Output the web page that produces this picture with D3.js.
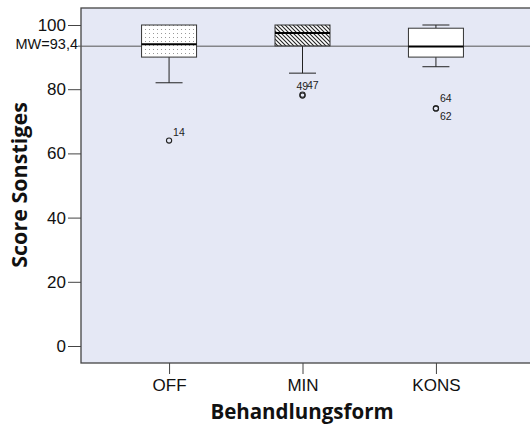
<!DOCTYPE html>
<html>
<head>
<meta charset="utf-8">
<script src="https://cdn.jsdelivr.net/npm/d3@7"></script>
<style>
  body { margin: 0; background: #fff; }
  svg { display: block; }
</style>
</head>
<body>
<div id="app"></div>
<script>
// data
const groups = ['OFF', 'MIN', 'KONS'];
const whiskerLow = [82, 85, 87];
const q1 = [90, 93.5, 90];
const median = [94, 97.5, 93.3];
const q3 = [100, 100, 99];
const whiskerHigh = [100, 100, 100];
const fills = ['dots', 'hatch', 'plain'];

const outlierGroup = ['OFF', 'MIN', 'MIN', 'KONS', 'KONS'];
const outlierValue = [64, 78, 78.3, 74, 74];
const outlierId = ['14', '49', '47', '64', '62'];

const meanValue = 93.4;
const meanLabel = 'MW=93,4';
const yTicks = [0, 20, 40, 60, 80, 100];

const width = 530;
const height = 428;
const plot = { left: 81, top: 8, right: 545, bottom: 363 };

const svg = d3.select('#app')
  .append('svg')
  .attr('width', width)
  .attr('height', height);

const defs = svg.append('defs');

// dotted fill
const dots = defs.append('pattern')
  .attr('id', 'dots')
  .attr('patternUnits', 'userSpaceOnUse')
  .attr('width', 4)
  .attr('height', 4);
dots.append('rect').attr('width', 4).attr('height', 4).attr('fill', '#fff');
dots.append('rect').attr('x', 1).attr('y', 1).attr('width', 1).attr('height', 1).attr('fill', '#999');

// diagonal hatch
const hatch = defs.append('pattern')
  .attr('id', 'hatch')
  .attr('patternUnits', 'userSpaceOnUse')
  .attr('width', 4)
  .attr('height', 4);
hatch.append('rect').attr('width', 4).attr('height', 4).attr('fill', '#fff');
hatch.append('path')
  .attr('d', 'M-1,-1L5,5M-1,3L1,5M3,-1L5,1')
  .attr('stroke', '#222')
  .attr('stroke-width', 1.1);

const x = d3.scalePoint()
  .domain(groups)
  .range([plot.left, 524])
  .padding(0.66);

const y = d3.scaleLinear()
  .domain([0, 100])
  .range([346, 25]);

// plot background
svg.append('rect')
  .attr('x', plot.left)
  .attr('y', plot.top)
  .attr('width', plot.right - plot.left)
  .attr('height', plot.bottom - plot.top)
  .attr('fill', '#e5e8f5')
  .attr('stroke', '#444')
  .attr('stroke-width', 1.3);

// y axis
const yAxis = svg.append('g')
  .attr('transform', `translate(${plot.left},0)`)
  .call(d3.axisLeft(y).tickValues(yTicks).tickSize(13).tickPadding(2))
  .call((g) => g.select('.domain').remove());
yAxis.selectAll('line').attr('stroke', '#444');
yAxis.selectAll('text')
  .attr('font-family', 'Liberation Sans, Arial, sans-serif')
  .attr('font-size', 17)
  .attr('fill', '#111');

// mean reference line with its label on the axis
svg.append('line')
  .attr('x1', 78)
  .attr('x2', plot.right)
  .attr('y1', y(meanValue))
  .attr('y2', y(meanValue))
  .attr('stroke', '#555')
  .attr('stroke-width', 1);
svg.append('text')
  .attr('x', 78)
  .attr('y', y(meanValue) + 3)
  .attr('text-anchor', 'end')
  .attr('font-family', 'Liberation Sans, Arial, sans-serif')
  .attr('font-size', 14.5)
  .attr('fill', '#111')
  .text(meanLabel);

// x axis
const xAxis = svg.append('g')
  .attr('transform', `translate(0,${plot.bottom})`)
  .call(d3.axisBottom(x).tickSize(11).tickPadding(5))
  .call((g) => g.select('.domain').remove());
xAxis.selectAll('line').attr('stroke', '#444');
xAxis.selectAll('text')
  .attr('font-family', 'Liberation Sans, Arial, sans-serif')
  .attr('font-size', 17)
  .attr('fill', '#111');

// boxes
const boxW = 55;
const capW = 27;
const boxes = svg.append('g')
  .selectAll('g')
  .data(groups)
  .join('g');

boxes.append('line')
  .attr('x1', (d) => x(d))
  .attr('x2', (d) => x(d))
  .attr('y1', (d, i) => y(whiskerLow[i]))
  .attr('y2', (d, i) => y(q1[i]))
  .attr('stroke', '#222');
boxes.append('line')
  .attr('x1', (d) => x(d))
  .attr('x2', (d) => x(d))
  .attr('y1', (d, i) => y(whiskerHigh[i]))
  .attr('y2', (d, i) => y(q3[i]))
  .attr('stroke', '#222');
boxes.append('line')
  .attr('x1', (d) => x(d) - capW / 2)
  .attr('x2', (d) => x(d) + capW / 2)
  .attr('y1', (d, i) => y(whiskerLow[i]))
  .attr('y2', (d, i) => y(whiskerLow[i]))
  .attr('stroke', '#222');
boxes.filter((d, i) => whiskerHigh[i] > q3[i])
  .append('line')
  .attr('x1', (d) => x(d) - capW / 2)
  .attr('x2', (d) => x(d) + capW / 2)
  .attr('y1', (d) => y(whiskerHigh[groups.indexOf(d)]))
  .attr('y2', (d) => y(whiskerHigh[groups.indexOf(d)]))
  .attr('stroke', '#222');
boxes.append('rect')
  .attr('x', (d) => x(d) - boxW / 2)
  .attr('y', (d, i) => y(q3[i]))
  .attr('width', boxW)
  .attr('height', (d, i) => y(q1[i]) - y(q3[i]))
  .attr('fill', (d, i) => (fills[i] === 'plain' ? '#fff' : `url(#${fills[i]})`))
  .attr('stroke', '#333')
  .attr('stroke-width', 1);
boxes.append('line')
  .attr('x1', (d) => x(d) - boxW / 2)
  .attr('x2', (d) => x(d) + boxW / 2)
  .attr('y1', (d, i) => y(median[i]))
  .attr('y2', (d, i) => y(median[i]))
  .attr('stroke', '#000')
  .attr('stroke-width', 2);

// outliers
const outliers = outlierValue.map((v, i) => ({
  group: outlierGroup[i],
  value: v,
  id: outlierId[i],
}));

svg.append('g')
  .selectAll('circle')
  .data(outliers)
  .join('circle')
  .attr('cx', (d) => x(d.group))
  .attr('cy', (d) => y(d.value))
  .attr('r', 2.6)
  .attr('fill', 'none')
  .attr('stroke', '#222')
  .attr('stroke-width', 1.1);

// case labels: shared points get stacked / side-by-side labels
const labelPos = (d) => {
  const same = outliers.filter((o) => o.group === d.group && Math.abs(o.value - d.value) < 1);
  const k = same.indexOf(d);
  const px = x(d.group);
  const py = y(d.value);
  if (same.length === 1) return [px + 4, py - 5];
  if (d.group === 'MIN') return [px - 6 + k * 10.5, py - 6];
  return [px + 4, k === 0 ? py - 6 : py + 12];
};

svg.append('g')
  .selectAll('text')
  .data(outliers)
  .join('text')
  .attr('x', (d) => labelPos(d)[0])
  .attr('y', (d) => labelPos(d)[1])
  .attr('font-family', 'Liberation Sans, Arial, sans-serif')
  .attr('font-size', 10.5)
  .attr('fill', '#222')
  .text((d) => d.id);

// axis titles
svg.append('text')
  .attr('transform', 'translate(27,185) rotate(-90)')
  .attr('text-anchor', 'middle')
  .attr('font-family', 'Open Sans, sans-serif')
  .attr('font-weight', 'bold')
  .attr('font-size', 21.5)
  .attr('fill', '#111')
  .text('Score Sonstiges');

svg.append('text')
  .attr('x', 302)
  .attr('y', 419)
  .attr('text-anchor', 'middle')
  .attr('font-family', 'Open Sans, sans-serif')
  .attr('font-weight', 'bold')
  .attr('font-size', 20.5)
  .attr('fill', '#111')
  .text('Behandlungsform');
</script>
</body>
</html>
